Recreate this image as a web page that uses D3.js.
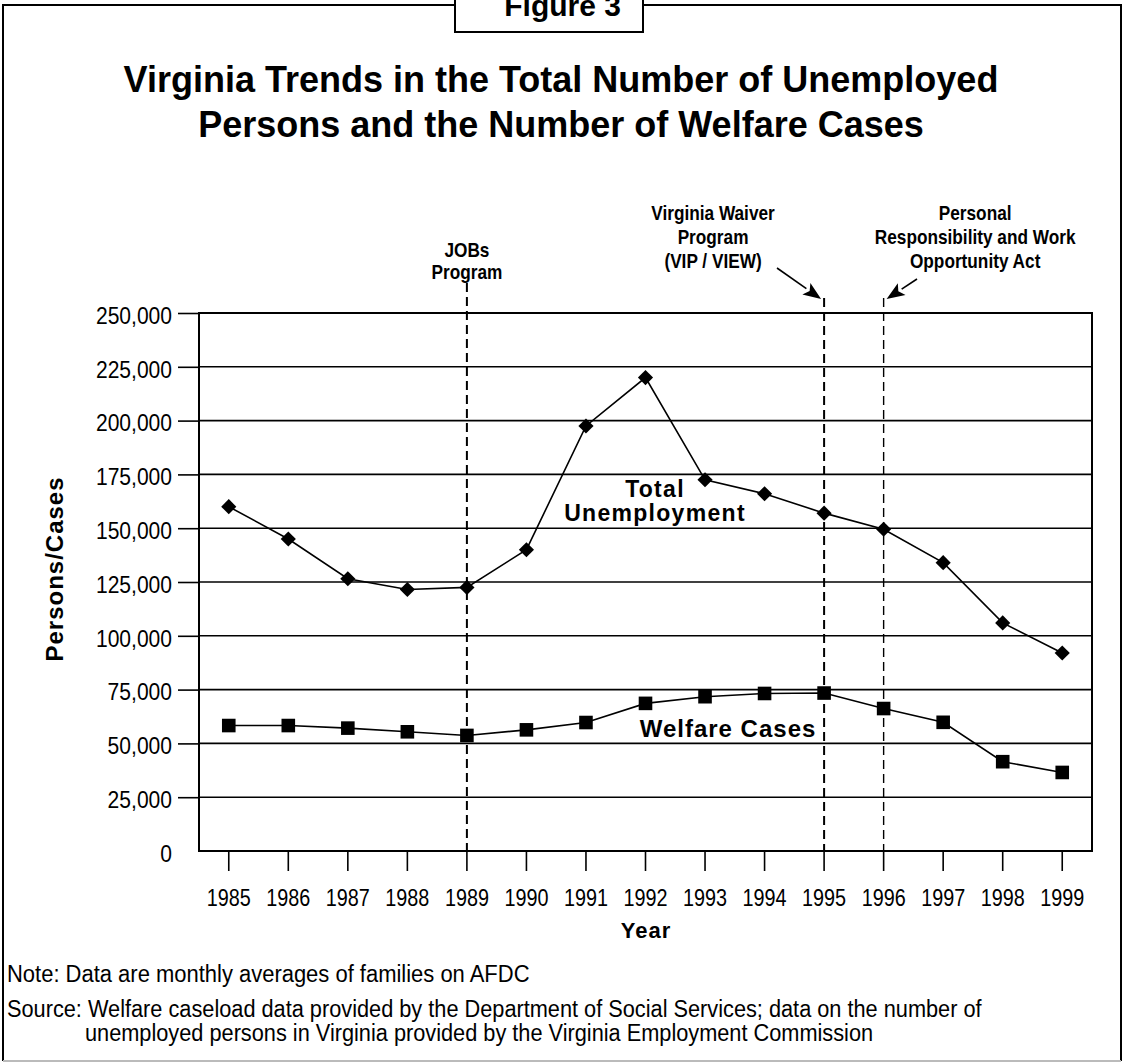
<!DOCTYPE html>
<html>
<head>
<meta charset="utf-8">
<script src="https://cdn.jsdelivr.net/npm/d3@7"></script>
<style>
  html, body { margin: 0; padding: 0; background: #fff; }
  svg { display: block; }
  .bold { font-family: "Liberation Sans", Arial, sans-serif; font-weight: bold; }
  .narrow { font-family: "Liberation Sans", Arial, sans-serif; }
</style>
</head>
<body>
<svg id="chart" width="1123" height="1064"></svg>
<script>
// ---- data ----
const years = [1985, 1986, 1987, 1988, 1989, 1990, 1991, 1992, 1993, 1994, 1995, 1996, 1997, 1998, 1999];
const unemployment = [160000, 145000, 126500, 121500, 122500, 140000, 197500, 220000, 172500, 166000, 157000, 149500, 134000, 106000, 92000];
const welfare = [58300, 58300, 57100, 55400, 53700, 56300, 59700, 68600, 71700, 73200, 73400, 66200, 59800, 41500, 36500];
const yTickValues = [0, 25000, 50000, 75000, 100000, 125000, 150000, 175000, 200000, 225000, 250000];
const policyYears = [1989, 1995, 1996];
const titleLines = ["Virginia Trends in the Total Number of Unemployed", "Persons and the Number of Welfare Cases"];
const jobsLabel = ["JOBs", "Program"];
const vipLabel = ["Virginia Waiver", "Program", "(VIP / VIEW)"];
const prwoaLabel = ["Personal", "Responsibility and Work", "Opportunity Act"];
const noteText = "Note:  Data are monthly averages of families on AFDC";
const sourceLines = ["Source:  Welfare caseload data provided by the Department of Social Services; data on the number of",
                     "unemployed persons in Virginia provided by the Virginia Employment Commission"];

// condense text horizontally (no narrow font installed)
function condense(sel, f) {
  sel.each(function () {
    const len = this.getComputedTextLength();
    d3.select(this).attr("textLength", len * f).attr("lengthAdjust", "spacingAndGlyphs");
  });
}

// ---- layout ----
const svg = d3.select("#chart");
const L = 199, R = 1092, T = 313, B = 851;

const x = d3.scaleBand().domain(years).range([L, R]).padding(0);
const xc = d => x(d) + x.bandwidth() / 2;
const y = d3.scaleLinear().domain([0, 250000]).range([B, T]);

// outer frame
const frame = svg.append("g").attr("stroke", "#000").attr("stroke-width", 2).attr("fill", "none");
frame.append("path").attr("d", "M455,5 H3 V1061");
frame.append("path").attr("d", "M643,5 H1121 V1061");
svg.append("line").attr("x1", 3).attr("x2", 1121).attr("y1", 1061).attr("y2", 1061)
   .attr("stroke", "#bbb").attr("stroke-width", 2);
// figure box
svg.append("rect").attr("x", 455).attr("y", -6).attr("width", 188).attr("height", 38)
   .attr("fill", "#fff").attr("stroke", "#000").attr("stroke-width", 2);
svg.append("text").attr("class", "bold").attr("x", 621).attr("y", 16)
   .attr("text-anchor", "end").attr("font-size", 30).text("Figure 3");

// title
svg.append("g").selectAll("text").data(titleLines).join("text")
   .attr("class", "bold").attr("x", 561).attr("y", (d, i) => 92 + i * 45)
   .attr("text-anchor", "middle").attr("font-size", 36).text(d => d);

// gridlines
svg.append("g").selectAll("line").data(yTickValues.filter(v => v > 0)).join("line")
   .attr("x1", L).attr("x2", R).attr("y1", d => y(d)).attr("y2", d => y(d))
   .attr("stroke", "#000").attr("stroke-width", 1.6);

// y axis
const yAxis = svg.append("g").attr("transform", `translate(${L},0)`)
  .call(d3.axisLeft(y).tickValues(yTickValues).tickSize(21).tickPadding(6).tickFormat(d3.format(",")));
yAxis.select(".domain").remove();
yAxis.selectAll(".tick line").attr("stroke-width", 1.6).filter(d => d === 0).remove();
yAxis.selectAll(".tick text").attr("class", "narrow").attr("font-size", 23).attr("fill", "#000").attr("dy", "0.45em")
  .call(condense, 0.915);

// x axis
const xAxis = svg.append("g").attr("transform", `translate(0,${B})`)
  .call(d3.axisBottom(x).tickSize(20).tickPadding(19));
xAxis.select(".domain").remove();
xAxis.selectAll(".tick line").attr("stroke-width", 1.6);
xAxis.selectAll(".tick text").attr("class", "narrow").attr("font-size", 23).attr("fill", "#000")
  .call(condense, 0.86);

// plot frame
svg.append("rect").attr("x", L).attr("y", T).attr("width", R - L).attr("height", B - T)
   .attr("fill", "none").attr("stroke", "#000").attr("stroke-width", 2);

// axis titles
svg.append("text").attr("class", "bold").attr("transform", `translate(63,569) rotate(-90)`)
   .attr("text-anchor", "middle").attr("font-size", 24).attr("letter-spacing", 1).text("Persons/Cases");
svg.append("text").attr("class", "bold").attr("x", 646).attr("y", 938)
   .attr("text-anchor", "middle").attr("font-size", 22).attr("letter-spacing", 1).text("Year");

// policy dashed lines
const dashTop = {1989: 283, 1995: 298, 1996: 298};
svg.append("g").selectAll("line").data(policyYears).join("line")
   .attr("x1", d => xc(d)).attr("x2", d => xc(d))
   .attr("y1", d => dashTop[d]).attr("y2", B)
   .attr("stroke", "#000").attr("stroke-width", d => d === 1996 ? 1.4 : 2)
   .attr("stroke-dasharray", "9,5");

// annotations
function multiline(lines, cx, y0, lh) {
  svg.append("g").selectAll("text").data(lines).join("text")
     .attr("class", "bold")
     .attr("x", cx).attr("y", (d, i) => y0 + i * lh)
     .attr("text-anchor", "middle").attr("font-size", 21).text(d => d)
     .call(condense, 0.82);
}
multiline(jobsLabel, xc(1989), 257, 22);
multiline(vipLabel, xc(1993) + 8, 220, 24);
multiline(prwoaLabel, xc(1997) + 32, 220, 24);

function arrow(x1, y1, x2, y2) {
  const ang = Math.atan2(y2 - y1, x2 - x1);
  const len = 18, w = 7;
  const bx = x2 - len * Math.cos(ang), by = y2 - len * Math.sin(ang);
  svg.append("line").attr("x1", x1).attr("y1", y1).attr("x2", bx).attr("y2", by)
     .attr("stroke", "#000").attr("stroke-width", 1.6);
  const px = -Math.sin(ang) * w, py = Math.cos(ang) * w;
  svg.append("path").attr("d", `M${x2},${y2} L${bx + px},${by + py} L${bx + 4 * Math.cos(ang)},${by + 4 * Math.sin(ang)} L${bx - px},${by - py} Z`)
     .attr("fill", "#000");
}
arrow(777, 268, xc(1995) - 3, 299);
arrow(917, 279, xc(1996) + 3, 299);

// series lines
const line = d3.line().x((d, i) => xc(years[i])).y(d => y(d));
svg.append("path").datum(unemployment).attr("d", line).attr("fill", "none").attr("stroke", "#000").attr("stroke-width", 1.6);
svg.append("path").datum(welfare).attr("d", line).attr("fill", "none").attr("stroke", "#000").attr("stroke-width", 1.6);

// markers
svg.append("g").selectAll("path").data(unemployment).join("path")
   .attr("d", d3.symbol().type(d3.symbolSquare).size(115))
   .attr("transform", (d, i) => `translate(${xc(years[i])},${y(d)}) rotate(45)`)
   .attr("fill", "#000");
svg.append("g").selectAll("path").data(welfare).join("path")
   .attr("d", d3.symbol().type(d3.symbolSquare).size(185))
   .attr("transform", (d, i) => `translate(${xc(years[i])},${y(d)})`)
   .attr("fill", "#000");

// series labels
svg.append("g").selectAll("text").data(["Total", "Unemployment"]).join("text")
   .attr("class", "bold").attr("x", 655).attr("y", (d, i) => 497 + i * 24)
   .attr("text-anchor", "middle").attr("font-size", 23).attr("letter-spacing", 1.3).text(d => d);
svg.append("text").attr("class", "bold").attr("x", 728).attr("y", 737)
   .attr("text-anchor", "middle").attr("font-size", 24).attr("letter-spacing", 1).text("Welfare Cases");

// notes
svg.append("text").attr("class", "narrow").attr("x", 7).attr("y", 982).attr("font-size", 23).text(noteText)
   .call(condense, 0.955);
svg.append("g").selectAll("text").data(sourceLines).join("text")
   .attr("class", "narrow").attr("x", (d, i) => i === 0 ? 7 : 85).attr("y", (d, i) => 1017 + i * 24)
   .attr("font-size", 23).text(d => d)
   .call(condense, 0.945);
</script>
</body>
</html>
